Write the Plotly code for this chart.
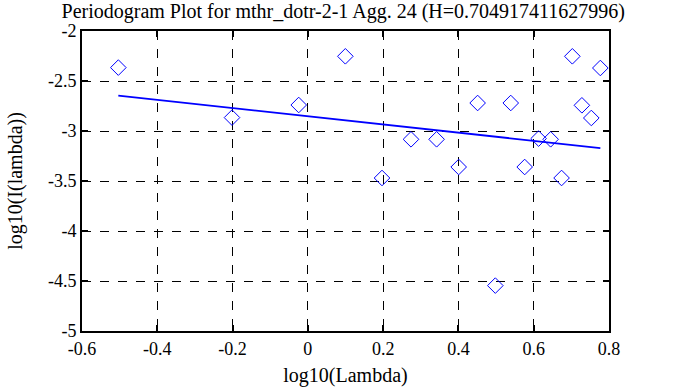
import plotly.graph_objects as go

# Periodogram points (log10 lambda, log10 I(lambda))
log_lambda = [-0.5035, -0.2015, -0.0243, 0.0996, 0.197, 0.274, 0.342, 0.4007,
              0.451, 0.498, 0.539, 0.576, 0.613, 0.645, 0.674, 0.7026, 0.728,
              0.753, 0.777]
log_I = [-2.366, -2.866, -2.74, -2.253, -3.47, -3.083, -3.083, -3.36,
         -2.72, -4.546, -2.72, -3.36, -3.076, -3.083, -3.47, -2.253, -2.743,
         -2.87, -2.37]

# Least-squares fit line endpoints
fit_x = [-0.5035, 0.777]
fit_y = [-2.646, -3.171]

title_text = "Periodogram Plot for mthr_dotr-2-1 Agg. 24 (H=0.704917411627996)"
x_ticks = [-0.6, -0.4, -0.2, 0, 0.2, 0.4, 0.6, 0.8]
x_tick_labels = ["-0.6", "-0.4", "-0.2", "0", "0.2", "0.4", "0.6", "0.8"]
y_ticks = [-5, -4.5, -4, -3.5, -3, -2.5, -2]
y_tick_labels = ["-5", "-4.5", "-4", "-3.5", "-3", "-2.5", "-2"]

font_family = "Liberation Serif"

fig = go.Figure()
fig.add_trace(go.Scatter(
    x=log_lambda, y=log_I, mode="markers",
    marker=dict(symbol="diamond-open", size=12, color="#0000ff",
                line=dict(width=1, color="#0000ff")),
    showlegend=False, cliponaxis=False,
))
fig.add_trace(go.Scatter(
    x=fit_x, y=fit_y, mode="lines",
    line=dict(color="#0000ff", width=1.8),
    showlegend=False,
))

axis_common = dict(
    showline=True, linecolor="black", linewidth=2, mirror="ticks",
    ticks="inside", ticklen=6, tickwidth=2, tickcolor="black",
    showgrid=True, gridcolor="black", gridwidth=1, griddash="dash",
    zeroline=False,
    tickfont=dict(family=font_family, size=18, color="black"),
)

fig.update_layout(
    width=673, height=387,
    margin=dict(l=82, r=64, t=31, b=56),
    paper_bgcolor="white", plot_bgcolor="white",
    font=dict(family=font_family, color="black"),
    title=dict(text=title_text, x=0.51, xanchor="center", y=0.972, yanchor="middle",
               pad=dict(t=0, b=0),
               font=dict(family=font_family, size=20, color="black")),
    xaxis=dict(range=[-0.6, 0.8], tickvals=x_ticks, ticktext=x_tick_labels,
               automargin=False,
               title=dict(text="log10(Lambda)",
                          font=dict(family=font_family, size=20)),
               **axis_common),
    yaxis=dict(range=[-5, -2], tickvals=y_ticks, ticktext=y_tick_labels,
               automargin=True,
               title=dict(text="log10(I(lambda))", standoff=20,
                          font=dict(family=font_family, size=20)),
               **axis_common),
)

fig.write_html("out.html", config={"displayModeBar": False},
               post_script="document.body.style.margin='0';document.body.style.padding='0';")
